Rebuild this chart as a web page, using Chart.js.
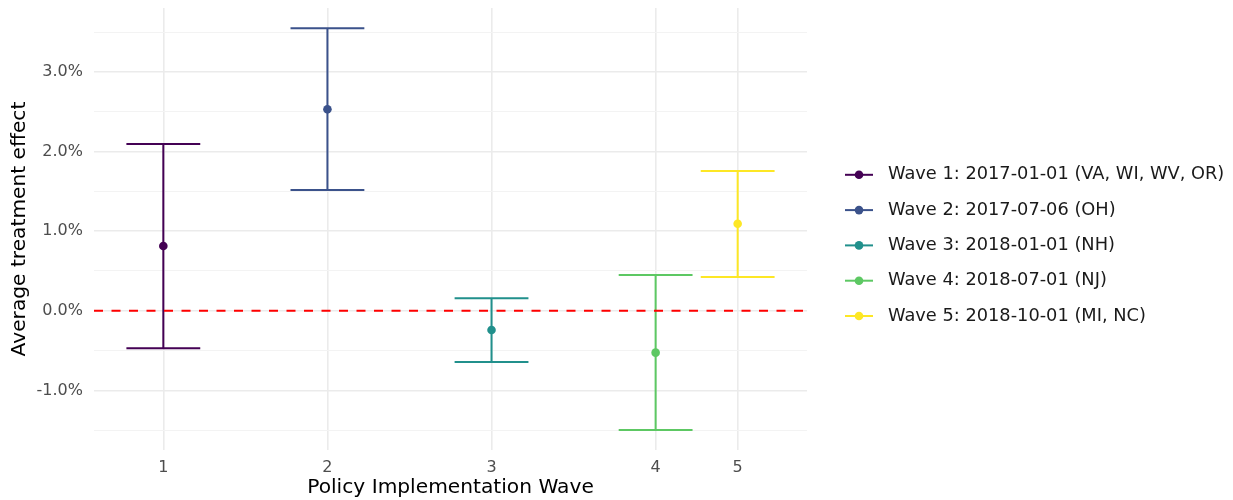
<!DOCTYPE html>
<html>
<head>
<meta charset="utf-8">
<title>Average treatment effect by policy wave</title>
<script src="https://cdn.jsdelivr.net/npm/chart.js@4.4.1/dist/chart.umd.min.js"></script>
<style>
  html, body { margin: 0; padding: 0; background: #fff; }
  #wrap { width: 1233px; height: 500px; position: relative; }
</style>
</head>
<body>
<div id="wrap"><canvas id="waveChart"></canvas></div>
<script>
// data
const waveLabels = ["1", "2", "3", "4", "5"];
const wavePositions = [1, 2, 3, 4, 4.5];   // wave 5 sits only a quarter-year after wave 4
const waveNames = [
    "Wave 1: 2017-01-01 (VA, WI, WV, OR)",
    "Wave 2: 2017-07-06 (OH)",
    "Wave 3: 2018-01-01 (NH)",
    "Wave 4: 2018-07-01 (NJ)",
    "Wave 5: 2018-10-01 (MI, NC)"
];
const estimates = [0.814, 2.531, -0.241, -0.526, 1.094];
const lowerCI = [-0.471, 1.518, -0.643, -1.497, 0.425];
const upperCI = [2.095, 3.549, 0.157, 0.450, 1.756];
const yTickValues = [-1.5, -1, -0.5, 0, 0.5, 1, 1.5, 2, 2.5, 3, 3.5];
const referenceValue = 0;

const waveColors = ["#440154", "#3B528B", "#21908C", "#5DC863", "#FDE725"];
const capHalfWidth = 0.225;

Chart.defaults.font.family = "'DejaVu Sans', sans-serif";

// error bars + dashed zero line, drawn under the points
const errorBars = {
    id: "errorBars",
    beforeDatasetsDraw(chart) {
        const {ctx, chartArea, scales: {x, y}} = chart;
        ctx.save();
        ctx.lineWidth = 2;
        ctx.lineCap = "butt";
        chart.data.datasets.forEach(ds => {
            ds.data.forEach(p => {
                const px = x.getPixelForValue(p.x);
                const x0 = x.getPixelForValue(p.x - capHalfWidth);
                const x1 = x.getPixelForValue(p.x + capHalfWidth);
                const yLo = y.getPixelForValue(p.lo);
                const yHi = y.getPixelForValue(p.hi);
                ctx.strokeStyle = ds.backgroundColor;
                ctx.beginPath();
                ctx.moveTo(px, yHi);
                ctx.lineTo(px, yLo);
                ctx.moveTo(x0, yHi);
                ctx.lineTo(x1, yHi);
                ctx.moveTo(x0, yLo);
                ctx.lineTo(x1, yLo);
                ctx.stroke();
            });
        });

        const yRef = y.getPixelForValue(referenceValue);
        ctx.strokeStyle = "#FF0000";
        ctx.setLineDash([9, 8.5]);
        ctx.beginPath();
        ctx.moveTo(chartArea.left, yRef);
        ctx.lineTo(chartArea.right, yRef);
        ctx.stroke();
        ctx.restore();
    }
};

// ggplot style legend: short line with a dot, then the label
const waveLegend = {
    id: "waveLegend",
    afterDraw(chart) {
        const {ctx, chartArea} = chart;
        const left = chartArea.right + 38;
        const top = 174.8;
        const step = 35.3;
        ctx.save();
        ctx.font = "17.8px 'DejaVu Sans', sans-serif";
        ctx.textBaseline = "middle";
        ctx.textAlign = "left";
        chart.data.datasets.forEach((ds, i) => {
            const cy = top + i * step;
            ctx.strokeStyle = ds.backgroundColor;
            ctx.fillStyle = ds.backgroundColor;
            ctx.lineWidth = 2;
            ctx.beginPath();
            ctx.moveTo(left, cy);
            ctx.lineTo(left + 28, cy);
            ctx.stroke();
            ctx.beginPath();
            ctx.arc(left + 14, cy, 4.3, 0, Math.PI * 2);
            ctx.fill();
            ctx.fillStyle = "#1A1A1A";
            ctx.fillText(ds.label, left + 43, cy);
        });
        ctx.restore();
    }
};

const datasets = waveNames.map((name, i) => ({
    label: name,
    data: [{x: wavePositions[i], y: estimates[i], lo: lowerCI[i], hi: upperCI[i]}],
    backgroundColor: waveColors[i],
    borderWidth: 0,
    pointRadius: 4.3,
    pointHoverRadius: 4.3
}));

new Chart("waveChart", {
    type: "scatter",
    data: { datasets: datasets },
    options: {
        responsive: true,
        maintainAspectRatio: false,
        animation: false,
        layout: { padding: { top: 8, right: 426, left: 0, bottom: 0 } },
        plugins: {
            legend: { display: false },
            tooltip: { enabled: false }
        },
        scales: {
            x: {
                type: "linear",
                min: 0.5775,
                max: 4.9225,
                afterBuildTicks: s => { s.ticks = wavePositions.map(v => ({value: v})); },
                afterFit: s => { s.height = 50; s.paddingLeft = 0; s.paddingRight = 0; },
                border: { display: false },
                grid: { color: "#EBEBEB", lineWidth: 1.6, drawTicks: false },
                ticks: {
                    autoSkip: false,
                    maxRotation: 0,
                    padding: 8,
                    color: "#4D4D4D",
                    font: { size: 16 },
                    callback: (v, i) => waveLabels[i]
                },
                title: {
                    display: true,
                    text: "Policy Implementation Wave",
                    color: "#000",
                    font: { size: 20.2 },
                    padding: { top: 0, bottom: 0 }
                }
            },
            y: {
                min: -1.749,
                max: 3.804,
                afterBuildTicks: s => { s.ticks = yTickValues.map(v => ({value: v})); },
                afterFit: s => { s.width = 94; s.paddingTop = 0; s.paddingBottom = 0; },
                border: { display: false },
                grid: {
                    drawTicks: false,
                    color: c => Number.isInteger(c.tick.value) ? "#EBEBEB" : "#F3F3F3",
                    lineWidth: c => Number.isInteger(c.tick.value) ? 1.6 : 1.1
                },
                ticks: {
                    autoSkip: false,
                    padding: 11,
                    color: "#4D4D4D",
                    font: { size: 16 },
                    callback: v => Number.isInteger(v) ? v.toFixed(1) + "%" : ""
                },
                title: {
                    display: true,
                    text: "Average treatment effect",
                    color: "#000",
                    font: { size: 20.2 },
                    padding: { top: 8, bottom: 0 }
                }
            }
        }
    },
    plugins: [errorBars, waveLegend]
});
</script>
</body>
</html>
